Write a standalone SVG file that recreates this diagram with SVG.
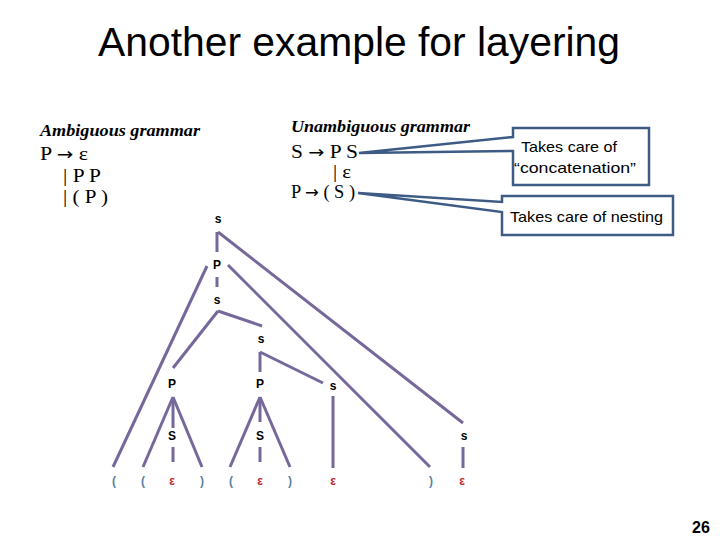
<svg xmlns="http://www.w3.org/2000/svg" width="720" height="540" viewBox="0 0 720 540">
<style>
.title{font-family:"Liberation Sans","DejaVu Sans",sans-serif;font-size:40px;fill:#000}
.head{font-family:"Liberation Serif",serif;font-size:17px;font-weight:bold;font-style:italic;fill:#000}
.gram{font-family:"Liberation Serif",serif;font-size:19px;fill:#000}
.arr{font-family:"DejaVu Sans",sans-serif;font-size:17px}
.call{font-family:"Liberation Sans","DejaVu Sans",sans-serif;font-size:15px;fill:#000}
.box{fill:#fff;stroke:#3d5b85;stroke-width:2.5;stroke-linejoin:miter}
.lbl{font-family:"Liberation Sans","DejaVu Sans",sans-serif;font-size:12px;font-weight:bold;fill:#000;text-anchor:middle}
.par{font-family:"Liberation Sans","DejaVu Sans",sans-serif;font-size:12px;font-weight:bold;fill:#5b7fa3;text-anchor:middle}
.eps{font-family:"Liberation Sans","DejaVu Sans",sans-serif;font-size:12px;font-weight:bold;fill:#c0272d;text-anchor:middle}
.edge{stroke:#76689a;stroke-width:3;fill:none;stroke-linecap:butt}
.num{font-family:"Liberation Sans","DejaVu Sans",sans-serif;font-size:16px;font-weight:bold;fill:#000}
</style>
<rect width="720" height="540" fill="#fff"/>
<text class="title" x="98" y="56" textLength="522" lengthAdjust="spacingAndGlyphs">Another example for layering</text>

<g id="ambiguous">
<text class="head" x="40" y="136" textLength="160" lengthAdjust="spacingAndGlyphs">Ambiguous grammar</text>
<text class="gram" x="40" y="160" textLength="48" lengthAdjust="spacingAndGlyphs">P <tspan class="arr">→</tspan> ε</text>
<text class="gram" x="63" y="182" textLength="38" lengthAdjust="spacingAndGlyphs">| P P</text>
<text class="gram" x="63" y="203" textLength="45" lengthAdjust="spacingAndGlyphs">| ( P )</text>
</g>

<g id="unambiguous">
<text class="head" x="291" y="132" textLength="179" lengthAdjust="spacingAndGlyphs">Unambiguous grammar</text>
<text class="gram" x="291" y="158" textLength="67" lengthAdjust="spacingAndGlyphs">S <tspan class="arr">→</tspan> P S</text>
<text class="gram" x="333" y="178" textLength="18" lengthAdjust="spacingAndGlyphs">| ε</text>
<text class="gram" x="291" y="198" textLength="64" lengthAdjust="spacingAndGlyphs">P <tspan class="arr">→</tspan> ( S )</text>
</g>

<g id="callout-concat">
<path class="box" d="M513,128 H649 V185 H513 V151 L359,153 L513,137 Z"/>
<text class="call" x="521" y="152" textLength="96" lengthAdjust="spacingAndGlyphs">Takes care of</text>
<text class="call" x="514" y="173" textLength="122" lengthAdjust="spacingAndGlyphs">“concatenation”</text>
</g>

<g id="callout-nesting">
<path class="box" d="M502,196 H673 V235 H502 V212 L358,193 L502,202 Z"/>
<text class="call" x="510" y="222" textLength="153" lengthAdjust="spacingAndGlyphs">Takes care of nesting</text>
</g>

<g id="connectors">
<line class="edge" x1="217" y1="232" x2="217" y2="252"/>
<line class="edge" x1="218" y1="232" x2="463" y2="423"/>
<line class="edge" x1="207" y1="266" x2="113" y2="467"/>
<line class="edge" x1="228" y1="265" x2="430" y2="467"/>
<line class="edge" x1="217" y1="277" x2="217" y2="287"/>
<line class="edge" x1="218" y1="311" x2="173" y2="368"/>
<line class="edge" x1="218" y1="311" x2="262" y2="326"/>
<line class="edge" x1="260" y1="352" x2="260" y2="372"/>
<line class="edge" x1="260" y1="352" x2="323" y2="383"/>
<line class="edge" x1="173" y1="397" x2="143" y2="467"/>
<line class="edge" x1="173" y1="400" x2="173" y2="428"/>
<line class="edge" x1="173" y1="397" x2="202" y2="467"/>
<line class="edge" x1="173" y1="447" x2="173" y2="462"/>
<line class="edge" x1="260" y1="397" x2="230" y2="467"/>
<line class="edge" x1="260" y1="398" x2="260" y2="422"/>
<line class="edge" x1="260" y1="397" x2="290" y2="467"/>
<line class="edge" x1="260" y1="447" x2="260" y2="462"/>
<line class="edge" x1="333" y1="396" x2="333" y2="468"/>
<line class="edge" x1="463" y1="447" x2="463" y2="468"/>
</g>

<g id="n-root"><text class="lbl" x="218" y="223">s</text></g>
<g id="n-p1"><text class="lbl" x="217" y="269">P</text></g>
<g id="n-s2"><text class="lbl" x="217" y="304">s</text></g>
<g id="n-s3"><text class="lbl" x="261" y="343">s</text></g>
<g id="n-p-left"><text class="lbl" x="172" y="388">P</text></g>
<g id="n-p-mid"><text class="lbl" x="260" y="388">P</text></g>
<g id="n-s4"><text class="lbl" x="333" y="390">s</text></g>
<g id="n-s-left"><text class="lbl" x="172" y="440">S</text></g>
<g id="n-s-mid"><text class="lbl" x="260" y="440">S</text></g>
<g id="n-s-right"><text class="lbl" x="464" y="440">s</text></g>

<g id="leaf1"><text class="par" x="114" y="485">(</text></g>
<g id="leaf2"><text class="par" x="143" y="485">(</text></g>
<g id="leaf3"><text class="eps" x="172" y="485">ε</text></g>
<g id="leaf4"><text class="par" x="202" y="485">)</text></g>
<g id="leaf5"><text class="par" x="231" y="485">(</text></g>
<g id="leaf6"><text class="eps" x="260" y="485">ε</text></g>
<g id="leaf7"><text class="par" x="290" y="485">)</text></g>
<g id="leaf8"><text class="eps" x="333" y="485">ε</text></g>
<g id="leaf9"><text class="par" x="431" y="485">)</text></g>
<g id="leaf10"><text class="eps" x="462" y="485">ε</text></g>

<text class="num" x="692" y="533">26</text>
</svg>
